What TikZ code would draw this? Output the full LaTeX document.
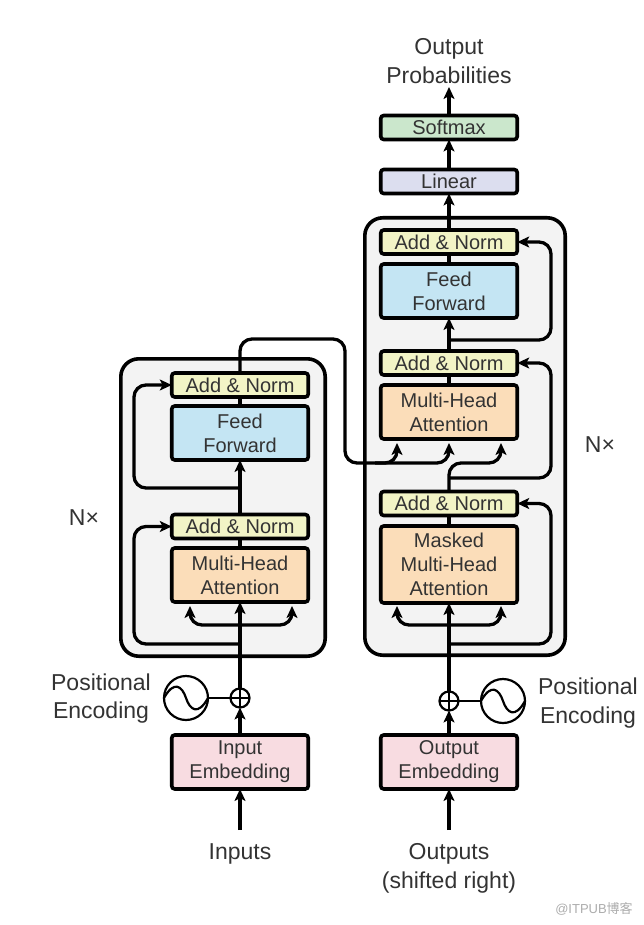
\documentclass[tikz,border=0pt]{standalone}
\usepackage{fontspec}
\setmainfont{Liberation Sans}
\newfontfamily\cjkfont{Noto Sans CJK SC}
\usetikzlibrary{arrows.meta}
\definecolor{addcol}{HTML}{F2F4C6}
\definecolor{ffcol}{HTML}{C4E5F3}
\definecolor{mhacol}{HTML}{FBDDB9}
\definecolor{embcol}{HTML}{F8DCE1}
\definecolor{softcol}{HTML}{CBE7CC}
\definecolor{lincol}{HTML}{DCDEEF}
\definecolor{stackcol}{HTML}{F3F3F3}
\definecolor{labcol}{HTML}{333333}
\begin{document}
\begin{tikzpicture}[
    x=1pt, y=-1pt,
    font=\fontsize{20}{24}\selectfont,
    block/.style={rectangle, draw=black, line width=3.6pt, rounded corners=3pt, inner sep=0pt, outer sep=0pt, minimum width=136.5pt, align=center, text=labcol},
    addnorm/.style={block, fill=addcol, minimum height=24pt},
    feedfwd/.style={block, fill=ffcol, minimum height=54pt},
    attn/.style={block, fill=mhacol, minimum height=54pt},
    embed/.style={block, fill=embcol, minimum height=54pt},
    stack/.style={rectangle, draw=black, line width=3.6pt, rounded corners=18pt, fill=stackcol, inner sep=0pt},
    lab/.style={align=center, text=labcol, font=\fontsize{23}{28.5}\selectfont},
    arrow/.style={-{Stealth[length=12pt,width=11pt,inset=3pt]}, line width=3.3pt},
    link/.style={line width=3.3pt},
    curved/.style={rounded corners=12pt},
    plus/.style={circle, draw=black, line width=2.2pt, fill=white, minimum size=19pt, inner sep=0pt, outer sep=0pt},
    sine/.style={circle, draw=black, line width=2.2pt, fill=white, minimum size=44pt, inner sep=0pt, outer sep=0pt}
]
\useasboundingbox (0,0) rectangle (644,925);

\draw[stack] (120.8,358.8) rectangle (325.2,656.2);
\draw[stack] (364.8,217.8) rectangle (565.2,655.2);

% encoder
\node[addnorm] (la2) at (240,385) {Add \& Norm};
\node[feedfwd] (lff) at (240,433) {Feed\\Forward};
\node[addnorm] (la1) at (240,526.5) {Add \& Norm};
\node[attn] (lmha) at (240,575) {Multi-Head\\Attention};
\node[embed] (lemb) at (240,762) {Input\\Embedding};
\node[plus] (lplus) at (240,698) {};
\node[sine] (lsine) at (186,698) {};

% decoder
\node[addnorm] (ra3) at (449,242) {Add \& Norm};
\node[feedfwd] (rff) at (449,291) {Feed\\Forward};
\node[addnorm] (ra2) at (449,363) {Add \& Norm};
\node[attn] (rmha) at (449,412) {Multi-Head\\Attention};
\node[addnorm] (ra1) at (449,503.5) {Add \& Norm};
\node[attn, minimum height=77pt] (rmask) at (449,564.5) {Masked\\Multi-Head\\Attention};
\node[embed] (remb) at (449,762) {Output\\Embedding};
\node[plus] (rplus) at (449,701) {};
\node[sine] (rsine) at (503,701) {};

% top
\node[block, fill=lincol, minimum height=24pt] (linear) at (449,181.5) {Linear};
\node[block, fill=softcol, minimum height=24pt] (softmax) at (449,127.5) {Softmax};

% labels
\node[lab] (outprob) at (449,61) {Output\\Probabilities};
\node[lab] (inputs) at (240,854) {Inputs};
\node[lab] (outputs) at (449,868.5) {Outputs\\(shifted right)};
\node[lab] (lpos) at (101,698.5) {Positional\\Encoding};
\node[lab] (rpos) at (588,703) {Positional\\Encoding};
\node[lab] (lnx) at (84,518) {N×};
\node[lab] (rnx) at (600,445) {N×};
\node[text=gray!65, font=\fontsize{13}{15}\selectfont] (mark) at (594,909) {@ITPUB\cjkfont 博客};

% free ends
\coordinate (linput) at (240,830);
\coordinate (rinput) at (449,830);
\coordinate (lsplit) at (240,625);
\coordinate (lres1) at (240,644);
\coordinate (lres2) at (240,488);
\coordinate (lout) at (240,339);
\coordinate (rsplit) at (449,625);
\coordinate (rres1) at (449,644);
\coordinate (rres2) at (449,478);
\coordinate (rres3) at (449,340);
\coordinate (lkey) at (397,443);
\coordinate (lval) at (449,443);
\coordinate (rqry) at (501,443);
\coordinate (mem) at (345,463);
\coordinate (memstart) at (375,463);
\coordinate (memmid) at (449,463);
\coordinate (qryup) at (449,490);
\coordinate (probtip) at (449,87);
\coordinate (lmhal) at (190,606);
\coordinate (lmhar) at (292,606);
\coordinate (rmaskl) at (397,606);
\coordinate (rmaskr) at (501,606);

% encoder links
\draw[arrow] (linput) -- (lemb.south);
\draw[arrow] (lemb.north) -- (lplus.south);
\draw[arrow] (lplus.north) -- (lmha.south);
\draw[link] (lmha.north) -- (la1.south);
\draw[arrow] (la1.north) -- (lff.south);
\draw[link] (lff.north) -- (la2.south);
\draw[arrow, curved] (lsplit) -| (lmhal);
\draw[arrow, curved] (lsplit) -| (lmhar);
\draw[arrow, curved] (lres1) -- ++(-106,0) |- (la1.west);
\draw[arrow, curved] (lres2) -- ++(-106,0) |- (la2.west);

% decoder links
\draw[arrow] (rinput) -- (remb.south);
\draw[arrow] (remb.north) -- (rplus.south);
\draw[arrow] (rplus.north) -- (rmask.south);
\draw[link] (rmask.north) -- (ra1.south);
\draw[link] (rmha.north) -- (ra2.south);
\draw[arrow] (ra2.north) -- (rff.south);
\draw[link] (rff.north) -- (ra3.south);
\draw[arrow] (ra3.north) -- (linear.south);
\draw[arrow] (linear.north) -- (softmax.south);
\draw[arrow] (softmax.north) -- (probtip);
\draw[arrow, curved] (rsplit) -| (rmaskl);
\draw[arrow, curved] (rsplit) -| (rmaskr);
\draw[arrow, curved] (rres1) -- ++(102,0) |- (ra1.east);
\draw[arrow, curved] (rres2) -- ++(102,0) |- (ra2.east);
\draw[arrow, curved] (rres3) -- ++(102,0) |- (ra3.east);
\draw[link] (ra1.north) -- (qryup);

% encoder to decoder
\draw[arrow, curved] (la2.north) |- (mem |- lout) -- (mem) -| (lkey);
\draw[arrow, curved] (memstart) -| (lval);
\draw[arrow, curved] (qryup) |- (memmid -| rqry) -- (rqry);

% positional encoding
\draw[line width=2.6pt] (lsine) -- (lplus);
\draw[line width=2.6pt] (rsine) -- (rplus);
\draw[line width=2.2pt] (lplus.west) -- (lplus.east);
\draw[line width=2.2pt] (rplus.west) -- (rplus.east);
\draw[line width=2.2pt] (lplus.north) -- (lplus.south);
\draw[line width=2.2pt] (rplus.north) -- (rplus.south);
\draw[line width=2.2pt] (lsine.west) .. controls (174,680) and (182,686) .. (lsine.center) .. controls (190,710) and (198,716) .. (lsine.east);
\draw[line width=2.2pt] (rsine.west) .. controls (491,683) and (499,689) .. (rsine.center) .. controls (507,713) and (515,719) .. (rsine.east);
\end{tikzpicture}
\end{document}
